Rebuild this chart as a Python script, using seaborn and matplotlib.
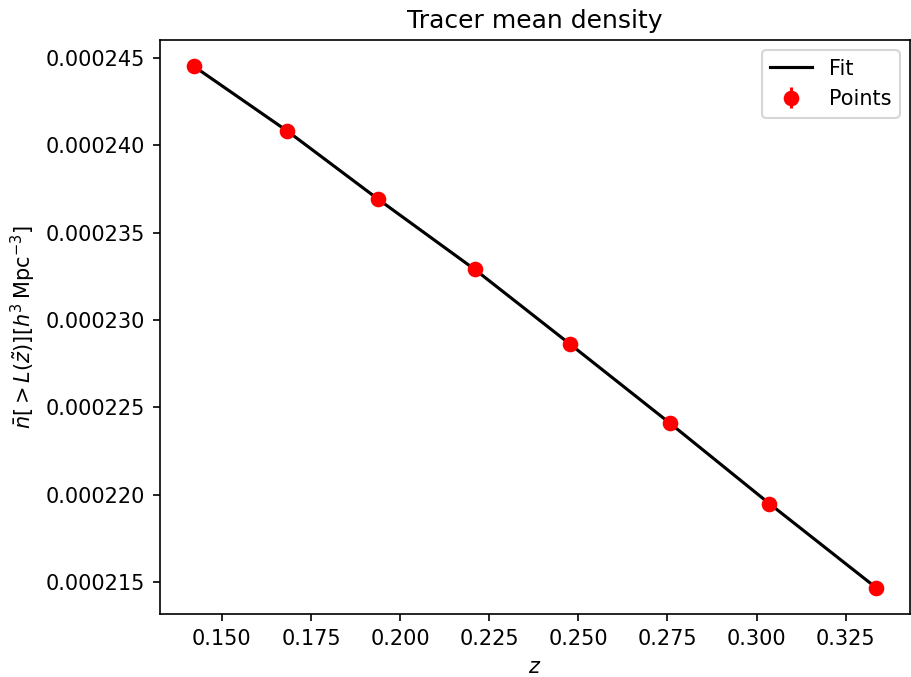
import numpy as np
import matplotlib
matplotlib.use("Agg")
import matplotlib.pyplot as plt
import seaborn as sns

## Values
z = [0.1422, 0.1684, 0.1939, 0.2209, 0.2478, 0.2757, 0.3036, 0.3335]
nbar = [0.0002445, 0.0002408, 0.0002369, 0.0002329, 0.0002286, 0.0002241, 0.0002195, 0.0002147]
nbar_err = [2e-8, 2e-8, 2e-8, 2e-8, 2e-8, 2e-8, 2e-8, 2e-8]
## Fit evaluated at the same redshifts
nbar_fit = [0.0002445, 0.0002408, 0.0002369, 0.0002329, 0.0002286, 0.0002241, 0.0002195, 0.0002147]

fig, ax = plt.subplots(figsize=(911 / 150, 677 / 150), dpi=150)
fig.subplots_adjust(left=0.1756, right=0.9989, top=0.9409, bottom=0.0931)

sns.lineplot(x=z, y=nbar_fit, color="black", linewidth=1.5, label="Fit", ax=ax)
ax.errorbar(z, nbar, yerr=nbar_err, fmt="o", color="red", markersize=6.5, label="Points", zorder=3)

ax.set_xlabel(r"$z$")
ax.set_ylabel(r"$\bar{n}[>L(\tilde{z})][h^3\,\mathrm{Mpc}^{-3}]$")
ax.set_title("Tracer mean density")
ax.legend(loc="upper right")

fig.savefig("out.png", dpi=150)
